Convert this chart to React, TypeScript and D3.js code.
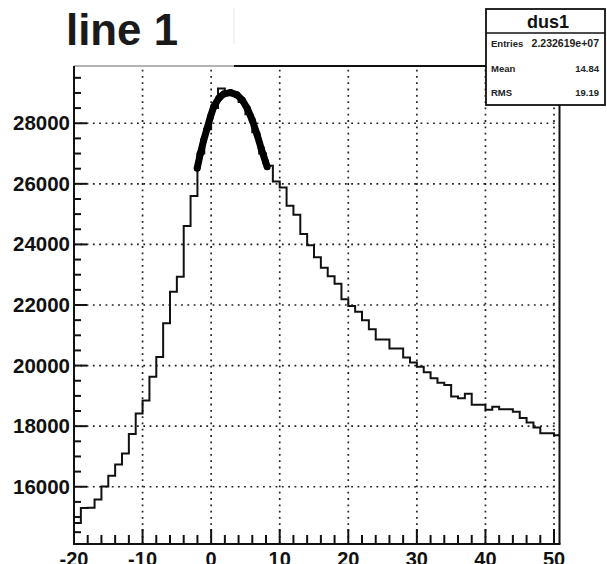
import React from 'react';
import * as d3 from 'd3';

// Histogram "dus1": unit-width bins starting at x = -20
const binStart = -20;
const binCounts = [
  14800, 15300, 15310, 15580, 16010, 16360, 16735, 17100, 17740, 18420,
  18850, 19635, 20280, 21400, 22440, 22930, 24610, 25600, 27000, 27800,
  28500, 29150, 29000, 28950, 28700, 28300, 27700, 27000, 26600, 26080,
  25880, 25280, 24980, 24345, 23970, 23580, 23230, 22950, 22700, 22190,
  21970, 21780, 21500, 21200, 20860, 20860, 20560, 20560, 20270, 20100,
  19960, 19780, 19580, 19430, 19360, 18980, 18920, 19070, 18710, 18710,
  18540, 18640, 18560, 18560, 18480, 18270, 18120, 17960, 17770, 17770,
  17700,
];

// Fitted curve over the peak region
const fitX = [-2.04, -1.56, -1.08, -0.58, -0.1, 0.38, 1.11, 1.84, 2.81, 3.79, 4.52, 5.25, 5.98, 6.71, 7.29, 7.92, 8.17];
const fitY = [26512, 27008, 27448, 27835, 28218, 28549, 28826, 28969, 29012, 28936, 28770, 28496, 28109, 27613, 27174, 26731, 26565];

const xMajorTicks = [-20, -10, 0, 10, 20, 30, 40, 50];
const yMajorTicks = [16000, 18000, 20000, 22000, 24000, 26000, 28000];

const histTitle = 'line 1';
const statsName = 'dus1';
const statsLabels = ['Entries', 'Mean', 'RMS'];
const statsValues = ['2.232619e+07', '14.84', '19.19'];

const W = 607;
const H = 564;
const FONT = '"Liberation Sans", Arial, Helvetica, sans-serif';

export default function App() {
  const left = 74;
  const right = 559.5;
  const top = 66;
  const bottom = 544;

  const x = d3.scaleLinear().domain([-20, 50.8]).range([left, right]);
  const y = d3.scaleLinear().domain([14110, 29890]).range([bottom, top]);

  const xMinor = d3.range(-18, 51, 2).filter((v) => !xMajorTicks.includes(v));
  const yMinor = d3.range(14500, 29900, 500).filter((v) => !yMajorTicks.includes(v));

  const xMax = x.domain()[1];
  const stepPts: [number, number][] = binCounts.map((c, i) => [binStart + i, c]);
  stepPts.push([Math.min(binStart + binCounts.length, xMax), binCounts[binCounts.length - 1]]);
  const stepLine = d3
    .line<[number, number]>()
    .x((d) => x(d[0]))
    .y((d) => y(d[1]))
    .curve(d3.curveStepAfter);

  const fitPts: [number, number][] = fitX.map((v, i) => [x(v), y(fitY[i])]);
  const fitLine = d3.line<[number, number]>().curve(d3.curveLinear);

  const dots = '1.8 4.5';

  return (
    <svg
      width={W}
      height={H}
      style={{ position: 'absolute', left: 0, top: 0, background: '#fff' }}
      fontFamily={FONT}
      fontWeight="bold"
    >
      <defs>
        <clipPath id="frame">
          <rect x={left} y={top} width={right - left} height={bottom - top} />
        </clipPath>
      </defs>
      <rect width={W} height={H} fill="#fff" />

      {/* grid */}
      <g stroke="#222" strokeWidth={1.7} strokeDasharray={dots}>
        {xMajorTicks.map((t) => (
          <line key={'gx' + t} x1={x(t)} x2={x(t)} y1={bottom} y2={top} />
        ))}
        {yMajorTicks.map((t) => (
          <line key={'gy' + t} x1={left} x2={right} y1={y(t)} y2={y(t)} />
        ))}
      </g>

      {/* histogram */}
      <g clipPath="url(#frame)">
        <path d={stepLine(stepPts) || ''} fill="none" stroke="#111" strokeWidth={2} />
      </g>

      {/* fit */}
      <path
        d={fitLine(fitPts) || ''}
        fill="none"
        stroke="#000"
        strokeWidth={7}
        strokeLinejoin="round"
      />
      <g fill="#000">
        {fitPts.map((p, i) => (
          <circle key={'fp' + i} cx={p[0]} cy={p[1]} r={3.5} />
        ))}
      </g>

      {/* frame */}
      <line x1={left} x2={234} y1={top} y2={top} stroke="#666" strokeWidth={1} />
      <line x1={234} x2={right} y1={top} y2={top} stroke="#111" strokeWidth={1.8} />
      <line x1={right} x2={right} y1={top} y2={bottom} stroke="#111" strokeWidth={2} />
      <line x1={left} x2={left} y1={top} y2={bottom + 1} stroke="#111" strokeWidth={2} />
      <line x1={left} x2={right + 1} y1={bottom} y2={bottom} stroke="#111" strokeWidth={2} />

      {/* ticks */}
      <g stroke="#111" strokeWidth={2}>
        {yMajorTicks.map((t) => (
          <line key={'ty' + t} x1={left} x2={left + 13} y1={y(t)} y2={y(t)} />
        ))}
        {yMinor.map((t) => (
          <line key={'tym' + t} x1={left} x2={left + 7} y1={y(t)} y2={y(t)} />
        ))}
        {xMajorTicks.map((t) => (
          <line key={'tx' + t} x1={x(t)} x2={x(t)} y1={bottom} y2={bottom - 15} />
        ))}
        {xMinor.map((t) => (
          <line key={'txm' + t} x1={x(t)} x2={x(t)} y1={bottom} y2={bottom - 9} />
        ))}
      </g>

      {/* tick labels */}
      <g fill="#111" fontSize={20}>
        {yMajorTicks.map((t) => (
          <text
            key={'ly' + t}
            x={left - 4}
            y={y(t) + 7}
            textAnchor="end"
            textLength={57}
            lengthAdjust="spacingAndGlyphs"
          >
            {t}
          </text>
        ))}
        {xMajorTicks.map((t) => (
          <text key={'lx' + t} x={x(t)} y={566} textAnchor="middle">
            {t}
          </text>
        ))}
      </g>

      {/* title */}
      <line x1={234} x2={234} y1={8} y2={44} stroke="#e6e6e6" strokeWidth={1} />
      <text x={66} y={45} fontSize={45} fill="#1a1a1a" textLength={112} lengthAdjust="spacingAndGlyphs">
        {histTitle}
      </text>

      {/* statistics box */}
      <g>
        <rect x={486} y={9} width={119} height={96} fill="#fff" stroke="#111" strokeWidth={1.8} />
        <line x1={486} x2={605} y1={33} y2={33} stroke="#111" strokeWidth={1.5} />
        <text x={548} y={27.5} fontSize={18} textAnchor="middle" fill="#111">
          {statsName}
        </text>
        {statsLabels.map((lab, i) => {
          const yy = [47, 71.5, 95.5][i];
          return (
            <g key={lab} fontSize={9.5} fill="#222">
              <text x={491} y={yy}>
                {lab}
              </text>
              <text x={599} y={yy} textAnchor="end" fontSize={i === 0 ? 10.5 : 9.5}>
                {statsValues[i]}
              </text>
            </g>
          );
        })}
      </g>
    </svg>
  );
}
